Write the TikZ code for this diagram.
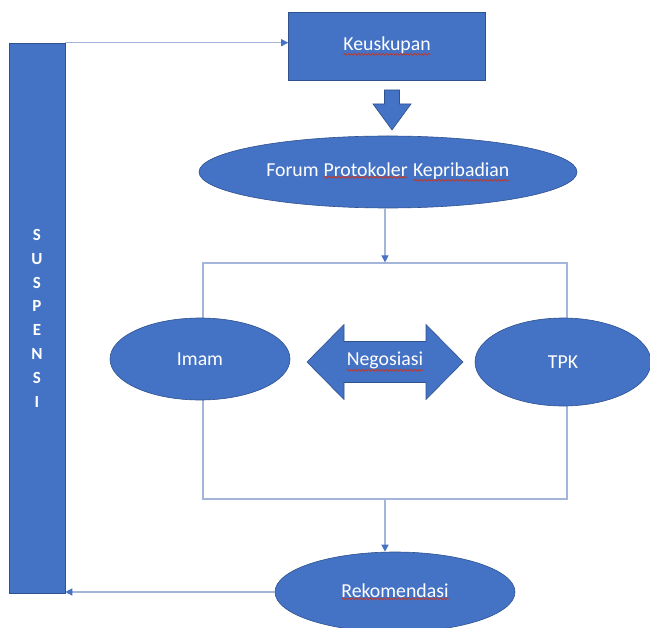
\documentclass[tikz,border=0pt]{standalone}
\usepackage{fontspec}
\setmainfont{Carlito}
\usetikzlibrary{arrows.meta,shapes.geometric,decorations.pathmorphing}
\definecolor{boxblue}{HTML}{4472C4}
\definecolor{edgeblue}{HTML}{2F528F}
\definecolor{lineblue}{HTML}{A3B5D9}
\definecolor{spellred}{HTML}{C0392B}
\tikzset{
  bluebox/.style={rectangle, fill=boxblue, draw=edgeblue, line width=0.6pt, text=white, inner sep=0pt},
  blueoval/.style={ellipse, fill=boxblue, draw=edgeblue, line width=0.6pt, text=white, inner sep=0pt},
  blockarrow/.style={fill=boxblue, draw=edgeblue, line width=0.6pt},
  link/.style={draw=lineblue, line width=1.2pt, -{Triangle[length=7pt,width=7pt,color=boxblue]}},
  frameline/.style={draw=lineblue, line width=1.2pt},
  squig/.style={draw=spellred, line width=0.8pt, decorate, decoration={snake, amplitude=0.9pt, segment length=3.5pt}},
  plainword/.style={rectangle, draw=none, fill=none, minimum width=0pt, minimum height=0pt, inner sep=0pt, outer sep=0pt}
}
\newcommand{\spell}[1]{\tikz[baseline=(w.base)]{\node[plainword] (w) {#1};
  \draw[squig] ([yshift=-1pt]w.south west) -- ([yshift=-1pt]w.south east);}}
\begin{document}
\begin{tikzpicture}[x=1pt,y=-1pt,font=\fontsize{19.8}{23}\selectfont]
  \useasboundingbox (0,0) rectangle (650,628);
  % frame behind Imam and TPK
  \node[frameline, minimum width=364pt, minimum height=236pt] (frame) at (385,381) {};
  % left bar
  \node[bluebox, minimum width=56pt, minimum height=550pt] (bar) at (37,318) {};
  \foreach \ch [count=\i from 0] in {S,U,S,P,E,N,S,I} {
    \node[text=white, font=\fontsize{17}{20}\bfseries] (letter\i) at (37,235+23.8*\i) {\ch};
  }
  \node[bluebox, minimum width=197pt, minimum height=68pt] (kes) at (387,46) {\spell{Keuskupan}};
  % down arrow
  \filldraw[blockarrow] (384.5,90) -- (399.5,90) -- (399.5,104) -- (411,104) -- (392,130)
    -- (373,104) -- (384.5,104) -- cycle;
  \node[blueoval, minimum width=378pt, minimum height=72pt] (forum) at (388,172)
    {Forum \spell{Protokoler} \spell{Kepribadian}};
  \node[blueoval, minimum width=180pt, minimum height=82pt] (imam) at (200,359) {Imam};
  \node[blueoval, minimum width=176pt, minimum height=88pt] (tpk) at (563,362) {TPK};
  % double arrow
  \filldraw[blockarrow] (307,362) -- (344,324.5) -- (344,341.5) -- (426,341.5) -- (426,324.5)
    -- (463,362) -- (426,399.5) -- (426,382.5) -- (344,382.5) -- (344,399.5) -- cycle;
  \node[text=white] (neg) at (385,362) {\spell{Negosiasi}};
  \node[blueoval, minimum width=240pt, minimum height=80pt] (rek) at (395,592) {\spell{Rekomendasi}};
  % connectors
  \draw[link] (bar.north east) -- (bar.north east -| kes.west);
  \draw[link] (forum.south -| frame.north) -- (frame.north);
  \draw[link] (frame.south) -- (frame.south |- rek.north);
  \draw[link] (rek.west) -- (rek.west -| bar.east);
\end{tikzpicture}
\end{document}
